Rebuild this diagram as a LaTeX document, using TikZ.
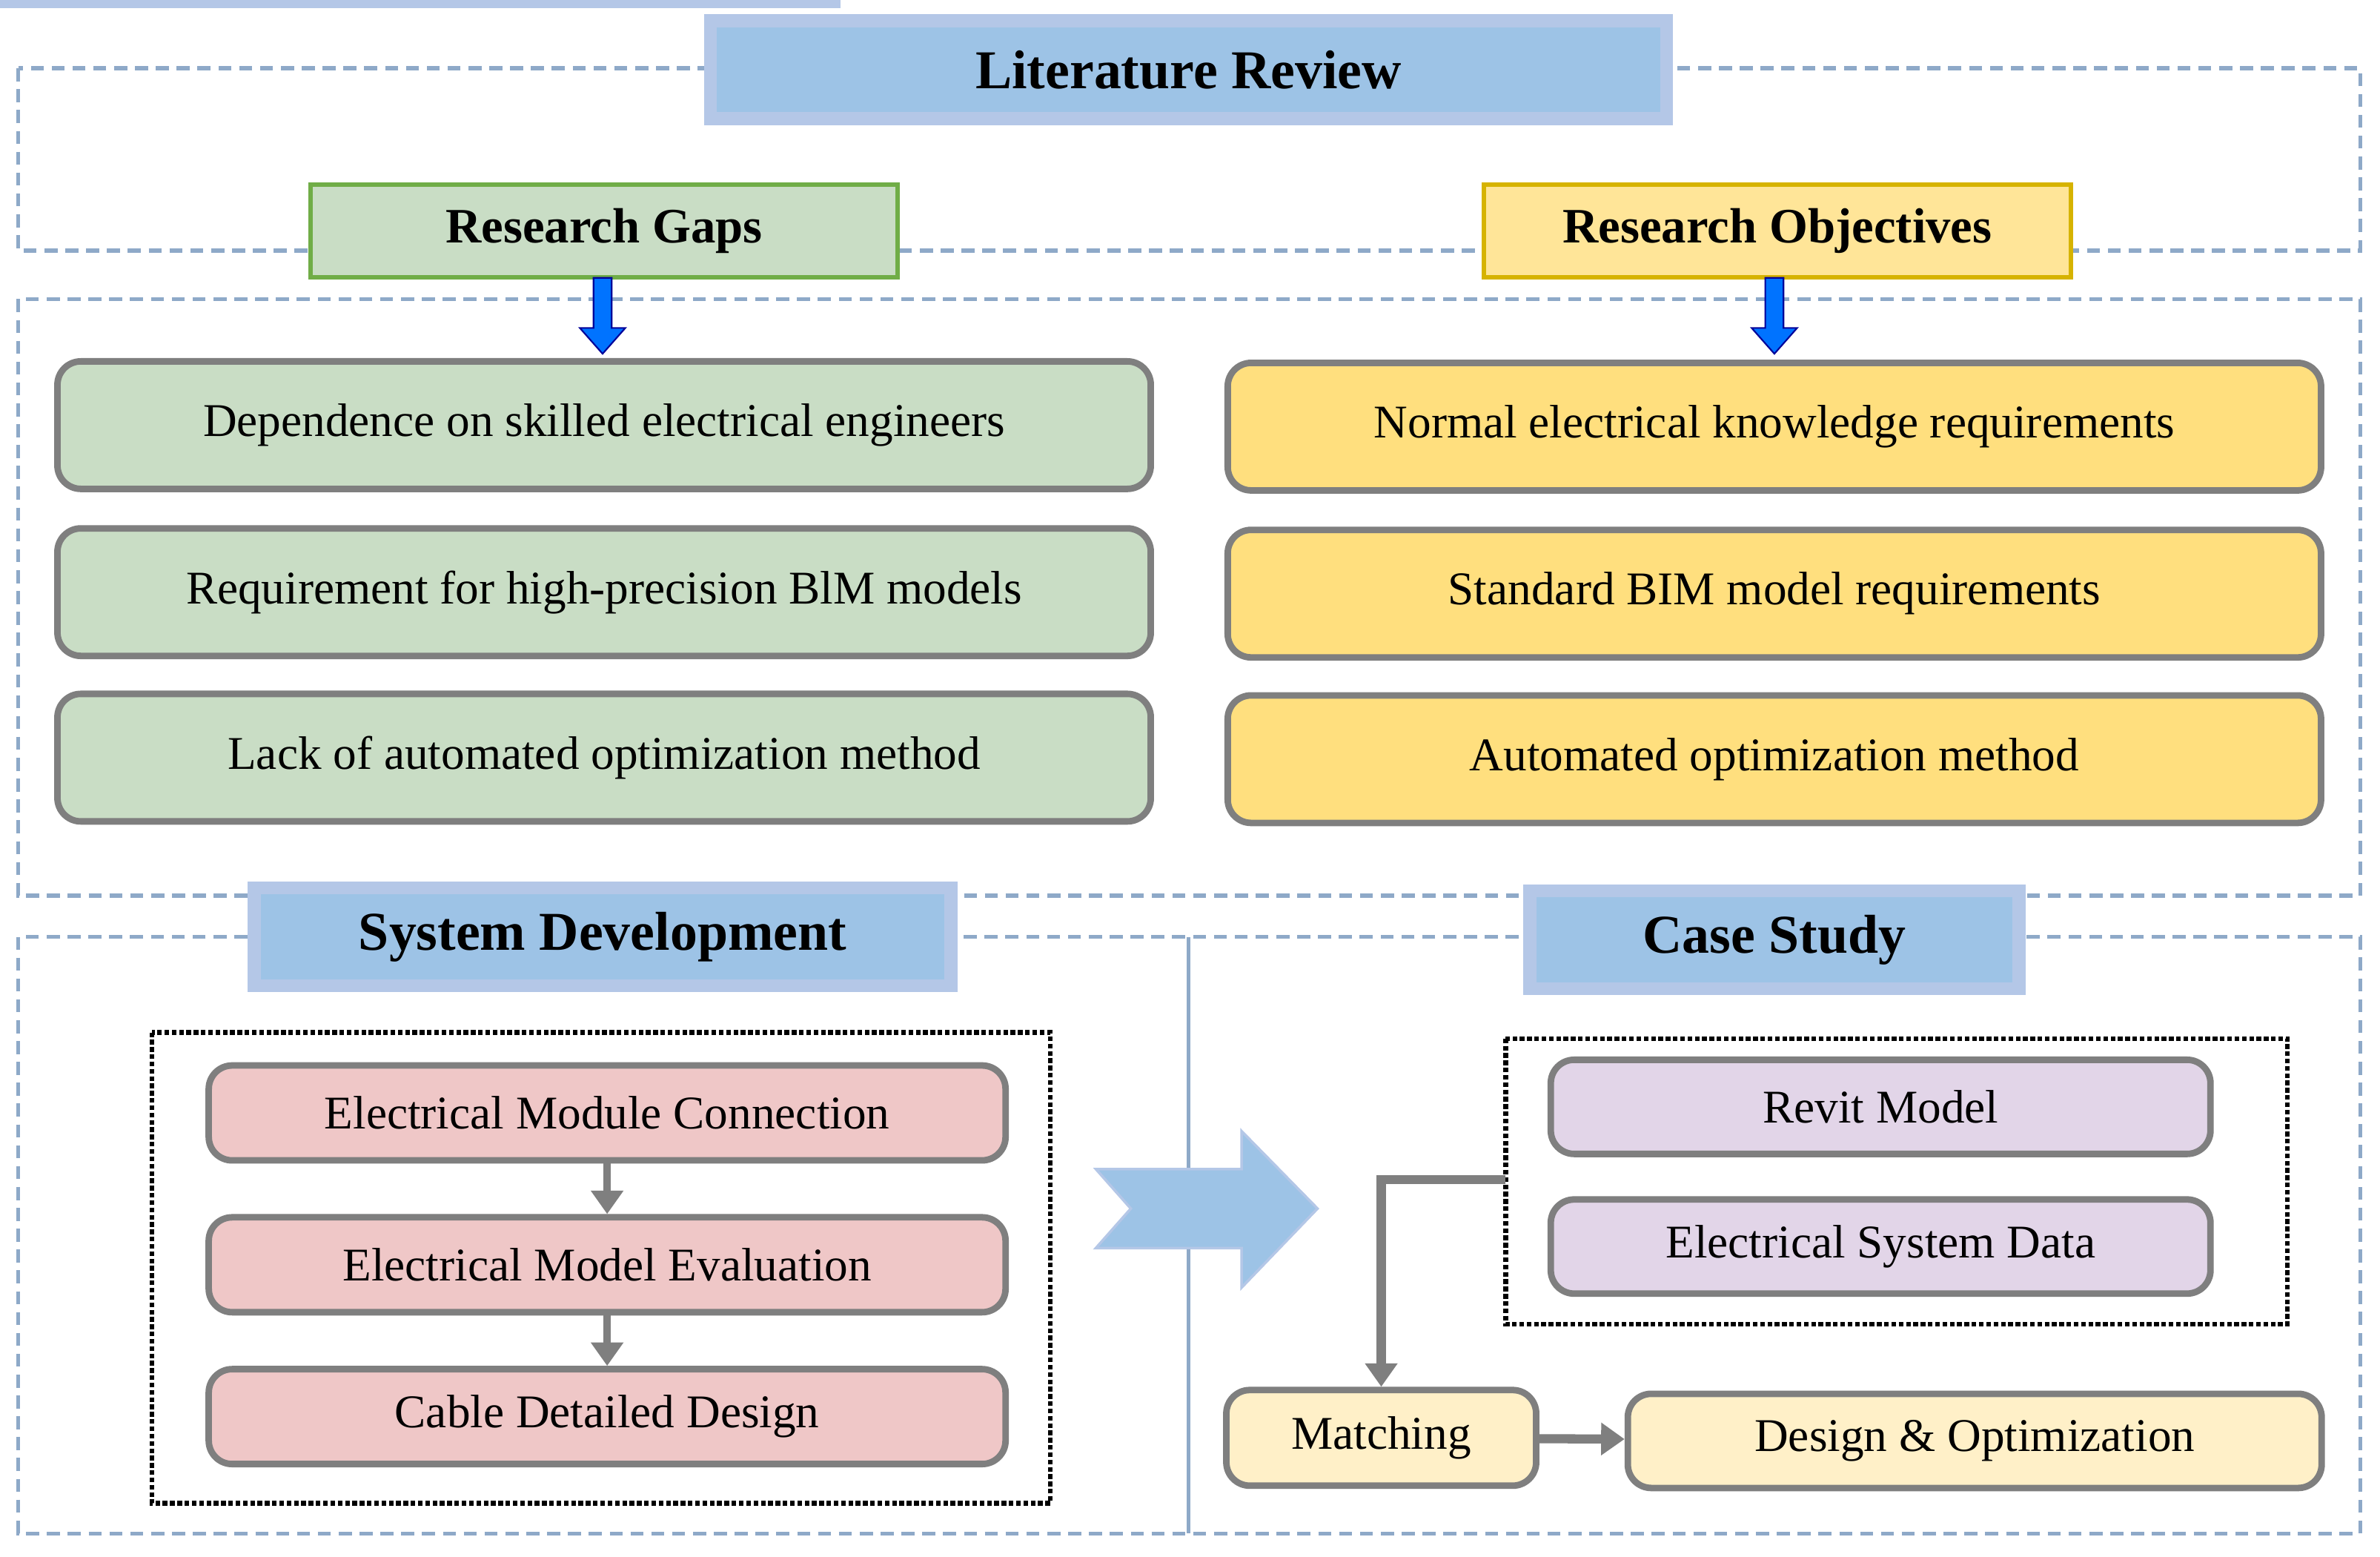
\documentclass[tikz,border=0pt]{standalone}
\usepackage{fontspec}
\setmainfont{Liberation Serif}
\usetikzlibrary{arrows.meta,positioning}
\definecolor{tblue}{HTML}{9DC3E6}
\definecolor{tbluebd}{HTML}{B4C7E7}
\definecolor{dashc}{HTML}{8EA9C8}
\definecolor{gfill}{HTML}{C9DDC5}
\definecolor{gbd}{HTML}{70AD47}
\definecolor{yfill}{HTML}{FFDF7E}
\definecolor{ybd}{HTML}{D6B300}
\definecolor{pfill}{HTML}{EFC7C7}
\definecolor{vfill}{HTML}{E2D5E8}
\definecolor{lyfill}{HTML}{FFF0C8}
\definecolor{gray7}{HTML}{7F7F7F}
\begin{document}
\begin{tikzpicture}[x=0.02048cm,y=-0.02048cm,
 dbox/.style={draw=dashc,dashed,line width=1.6pt,dash pattern=on 5pt off 3pt},
 title/.style={fill=tblue,draw=tbluebd,line width=5pt,font=\fontsize{21}{24}\selectfont\bfseries,inner sep=0pt},
 hdr/.style={line width=1.8pt,font=\fontsize{19}{22}\selectfont\bfseries,inner sep=0pt},
 item/.style={draw=gray7,line width=2.5pt,rounded corners=9pt,font=\fontsize{18}{21}\selectfont,inner sep=0pt},
 garr/.style={draw=gray7,line width=3.5pt,-{Triangle[length=9pt,width=12pt]}},
 barr/.style={draw=blue!60!black,fill=blue!55!cyan,line width=0.6pt}]
\useasboundingbox (0,0) rectangle (1568,1025);
\fill[white] (0,0) rectangle (1568,1025);
% dashed frames
\draw[dbox] (12,45) rectangle (1555,165);
\draw[dbox] (12,197) rectangle (1555,590);
\draw[dbox] (12,617) rectangle (1555,1010);
\draw[draw=dashc,line width=1.4pt] (783,617) -- (783,1010);
% titles
\node[title,minimum width=640\pgflinewidth/5,text width=0pt] at (0,0) {};
\node[title,minimum width=12.9cm,minimum height=1.32cm] (lit) at (783,46) {Literature Review};
\node[title,minimum width=9.4cm,minimum height=1.32cm] (sys) at (397,617) {System Development};
\node[title,minimum width=6.6cm,minimum height=1.32cm] (case) at (1169,619) {Case Study};
\node[hdr,fill=gfill,draw=gbd,minimum width=7.92cm,minimum height=1.25cm] (gaps) at (398,152) {Research Gaps};
\node[hdr,fill=yfill!80!white,draw=ybd,minimum width=7.92cm,minimum height=1.25cm] (obj) at (1171,152) {Research Objectives};
% items
\foreach \n/\y/\t in {g1/280/Dependence on skilled electrical engineers,g2/390/Requirement for high-precision BlM models,g3/499/Lack of automated optimization method}
 \node[item,fill=gfill,minimum width=14.75cm,minimum height=1.72cm] (\n) at (398,\y) {\t};
\foreach \n/\y/\t in {y1/281/Normal electrical knowledge requirements,y2/391/Standard BIM model requirements,y3/500/Automated optimization method}
 \node[item,fill=yfill,minimum width=14.75cm,minimum height=1.72cm] (\n) at (1169,\y) {\t};
% blue down arrows
\foreach \x/\n/\m in {397/gaps/g1,1169/obj/y1}
 \path[barr] (\x-6,183) -- (\x+6,183) -- (\x+6,216) -- (\x+15,216) -- (\x,233) -- (\x-15,216) -- (\x-6,216) -- cycle;
% system development
\draw[densely dotted,line width=1.8pt] (100,680) rectangle (692,990);
\node[item,fill=pfill,minimum width=10.75cm,minimum height=1.28cm] (p1) at (400,733) {Electrical Module Connection};
\node[item,fill=pfill,minimum width=10.75cm,minimum height=1.28cm] (p2) at (400,833) {Electrical Model Evaluation};
\node[item,fill=pfill,minimum width=10.75cm,minimum height=1.28cm] (p3) at (400,933) {Cable Detailed Design};
\draw[garr,line width=3pt] (p1) -- (p2);
\draw[garr,line width=3pt] (p2) -- (p3);
% big arrow
\path[fill=tblue,draw=tbluebd,line width=1pt] (722,770) -- (818,770) -- (818,745) -- (868,796) -- (818,848) -- (818,822) -- (722,822) -- (745,796) -- cycle;
% case study
\draw[densely dotted,line width=1.8pt] (992,684) rectangle (1507,872);
\node[item,fill=vfill,minimum width=8.9cm,minimum height=1.27cm] (v1) at (1239,729) {Revit Model};
\node[item,fill=vfill,minimum width=8.9cm,minimum height=1.27cm] (v2) at (1239,821) {Electrical System Data};
\node[item,fill=lyfill,minimum width=4.18cm,minimum height=1.29cm] (m) at (910,947) {Matching};
\node[item,fill=lyfill,minimum width=9.36cm,minimum height=1.27cm] (d) at (1301,949) {Design \& Optimization};
\coordinate (c0) at (992,777);
\draw[garr] (c0) -- (910,777) -- (m.north);
\draw[garr] (m) -- (d);
\end{tikzpicture}
\end{document}
